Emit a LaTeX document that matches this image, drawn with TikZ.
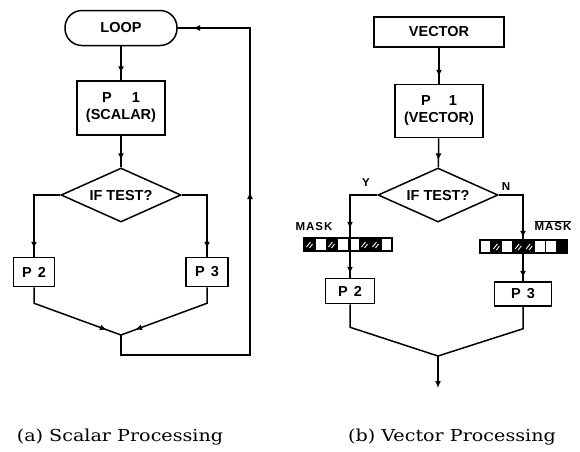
\documentclass[tikz,border=0pt]{standalone}
\usepackage{fontspec}
\setmainfont{DejaVu Serif}
\newfontfamily\lab{Liberation Sans}
\newfontfamily\capfont[FakeStretch=1.16]{DejaVu Serif}
\usetikzlibrary{shapes.geometric,arrows.meta,decorations.markings}
\begin{document}
\begin{tikzpicture}[x=1pt,y=-1pt,line width=1.5pt,
  lbl/.style={font=\lab\bfseries\fontsize{14.5}{16}\selectfont},
  box/.style={lbl,draw,rectangle,inner sep=0pt,align=center},
  dec/.style={lbl,draw,diamond,aspect=2.22,inner sep=0pt,minimum width=120pt,minimum height=54pt},
  small/.style={font=\lab\bfseries\fontsize{11.5}{13}\selectfont\addfontfeature{LetterSpace=8}},
  arrat/.style={postaction={decorate},decoration={markings,mark=at position #1 with {\arrow{Latex[length=7pt,width=6pt]}}}},
  arrtwo/.style 2 args={postaction={decorate},decoration={markings,
     mark=at position #1 with {\arrow{Latex[length=7pt,width=6pt]}},
     mark=at position #2 with {\arrow{Latex[length=7pt,width=6pt]}}}},
  captext/.style={font=\capfont\fontsize{16.5}{19}\selectfont}
]
\useasboundingbox (0,0) rectangle (580,451);

% ---------- (a) scalar ----------
\node[box,rounded corners=17pt,minimum width=112pt,minimum height=35pt] (loop) at (121,28) {LOOP};
\node[box,minimum width=88pt,minimum height=54pt] (p1a) at (121,108) {P\hspace{20pt}1\\[1pt](SCALAR)};
\node[dec] (da) at (121,195) {IF TEST?};
\node[box,minimum width=41pt,minimum height=29pt] (p2a) at (34,272) {P\hspace{6pt}2};
\node[box,minimum width=42pt,minimum height=29pt] (p3a) at (207,272) {P\hspace{6pt}3};
\coordinate (ma) at (121,335);
\coordinate (ra) at (250,355);
\coordinate (rb) at (250,28);

\draw[arrat=-7pt] (loop) -- (p1a);
\draw[arrat=-7pt] (p1a) -- (da);
\draw[arrat=-8pt] (da.west) -| (p2a.north);
\draw[arrat=-8pt] (da.east) -| (p3a.north);
\draw[arrat=-15pt] (p2a.south) -- ++(0,16) -- (ma);
\draw[arrat=-15pt] (p3a.south) -- ++(0,16) -- (ma);
\draw[arrtwo={312pt}{533pt}] (ma) |- (ra) -- (rb) -- (loop.east);

% ---------- (b) vector ----------
\node[box,minimum width=130pt,minimum height=30pt] (vec) at (439,32) {VECTOR};
\node[box,minimum width=88pt,minimum height=53pt] (p1b) at (439,111) {P\hspace{18pt}1\\[1pt](VECTOR)};
\node[dec] (db) at (438,195) {IF TEST?};
\node[box,minimum width=49pt,minimum height=25pt] (p2b) at (350,291) {P\hspace{6pt}2};
\node[box,minimum width=57pt,minimum height=24pt] (p3b) at (523,294) {P\hspace{6pt}3};
\node[small] (y) at (366,183) {Y};
\node[small] (n) at (506,187) {N};
\node[small] (mk) at (314,227) {MASK};
\node[small] (mkn) at (553,226) {$\overline{\hbox{MASK}}$};
\coordinate (mb) at (438,356);
\coordinate (eb) at (438,388);

% masks
\foreach \k in {0,2,5,6} {
  \fill[black] (304+11*\k,238) rectangle ++(11,13);
  \draw[white,line width=0.9pt] (304+11*\k+2.5,238+9) -- ++(4,-5) (304+11*\k+5.5,238+10) -- ++(3,-4);
}
\foreach \k in {1,...,7} \draw[line width=0.9pt] (304+11*\k,238) -- ++(0,13);
\draw (304,238) rectangle (392,251);

\foreach \k in {1,3,4} {
  \fill[black] (480+10.9*\k,240) rectangle ++(10.9,13);
  \draw[white,line width=0.9pt] (480+10.9*\k+2.5,240+9) -- ++(4,-5) (480+10.9*\k+5.5,240+10) -- ++(3,-4);
}
\fill[black] (480+10.9*7,240) rectangle (567,253);
\foreach \k in {1,...,7} \draw[line width=0.9pt] (480+10.9*\k,240) -- ++(0,13);
\draw (480,240) rectangle (567,253);

\draw[arrtwo={61pt}{106pt}] (db.west) -| (p2b.north);
\draw[arrtwo={67pt}{107pt}] (db.east) -| (p3b.north);
\draw[arrat=-7pt] (vec) -- (p1b);
\draw[arrat=-7pt] (p1b) -- (db);
\draw (p2b.south) -- ++(0,23) -- (mb);
\draw (p3b.south) -- ++(0,22) -- (mb);
\draw[-{Latex[length=7pt,width=6pt]}] (mb) -- (eb);

% captions
\node[captext] (capa) at (120,437) {(a) Scalar Processing};
\node[captext] (capb) at (452,437) {(b) Vector Processing};
\end{tikzpicture}
\end{document}
